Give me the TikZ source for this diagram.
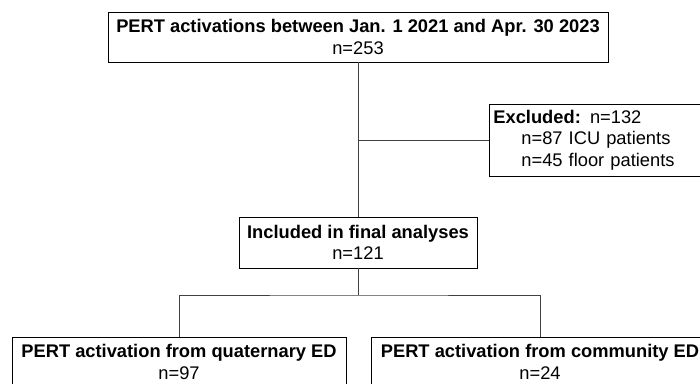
\documentclass[tikz,border=0pt]{standalone}
\usepackage{fontspec}
\setmainfont{Liberation Sans}
\usepackage{xcolor}

\tikzset{
  box/.style={draw=black,line width=0.8pt,align=center,inner sep=0pt,font=\fontsize{18.3}{21.5}\selectfont},
  link/.style={draw=black!75,line width=0.8pt}
}

\begin{document}
\begin{tikzpicture}[x=1pt,y=-1pt]
    \useasboundingbox (0,0) rectangle (700,383);

    % 方框
    \node[box,minimum width=500pt,minimum height=50pt] (total) at (358,37)
        {\textbf{PERT activations between Jan. 1 2021 and Apr. 30 2023}\\n=253};
    \node[box,anchor=west,align=left,text width=207pt,inner xsep=4pt,minimum height=72pt] (excl) at (489,140)
        {\textbf{Excluded:} n=132\\\hspace*{28pt}n=87 ICU patients\\\hspace*{28pt}n=45 floor patients};
    \node[box,minimum width=238pt,minimum height=51pt] (incl) at (358,242.5)
        {\textbf{Included in final analyses}\\n=121};
    \node[box,minimum width=334pt,minimum height=50pt] (quat) at (179,362)
        {\textbf{PERT activation from quaternary ED}\\n=97};
    \node[box,minimum width=338pt,minimum height=50pt] (comm) at (540,362)
        {\textbf{PERT activation from community ED}\\n=24};

    \coordinate (split) at (358,295);

    % 连线
    \draw[link] (total.south) -- (incl.north);
    \draw[link] (total.south |- excl.west) -- (excl.west);
    \draw[link] (incl.south) -- (split);
    \draw[link] (quat.north) |- (split) -| (comm.north);

\end{tikzpicture}
\end{document}
